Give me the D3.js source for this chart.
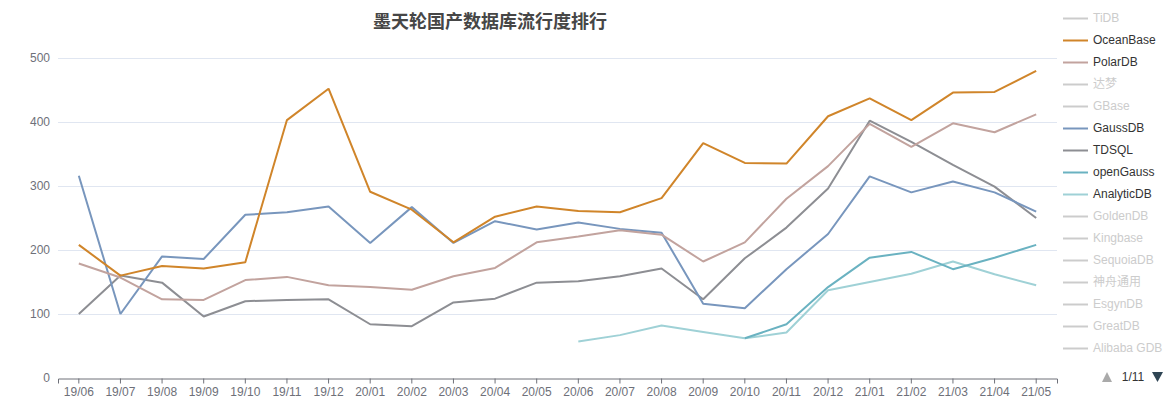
<!DOCTYPE html>
<html>
<head>
<meta charset="utf-8">
<script src="https://cdn.jsdelivr.net/npm/d3@7/dist/d3.min.js"></script>
<style>
  html, body { margin: 0; padding: 0; background: #fff; }
  svg { display: block; font-family: "Liberation Sans", "Noto Sans CJK SC", sans-serif; }
</style>
</head>
<body>
<svg id="chart" width="1173" height="412"></svg>
<script>
const categories = ["19/06","19/07","19/08","19/09","19/10","19/11","19/12","20/01","20/02","20/03","20/04","20/05","20/06","20/07","20/08","20/09","20/10","20/11","20/12","21/01","21/02","21/03","21/04","21/05"];
const yTicks = [0, 100, 200, 300, 400, 500];

const oceanBase = [208,160,175,171,181,403,452,291,263,212,252,268,261,259,281,367,336,335,409,437,403,446,447,480];
const polarDB   = [179,157,123,122,153,158,145,142,138,159,172,212,221,231,224,182,212,280,331,397,361,398,384,412];
const gaussDB   = [316,100,190,186,255,259,268,211,267,211,245,232,243,233,227,116,109,170,225,315,290,307,290,260];
const tdsql     = [100,160,149,96,120,122,123,84,81,118,124,149,151,159,171,123,187,235,296,402,369,333,299,250];
const openGauss = [null,null,null,null,null,null,null,null,null,null,null,null,null,null,null,null,62,84,142,188,197,170,188,208];
const analyticDB= [null,null,null,null,null,null,null,null,null,null,null,null,57,67,82,72,62,71,137,150,163,182,162,145];

const legendNames = ["TiDB","OceanBase","PolarDB","达梦","GBase","GaussDB","TDSQL","openGauss","AnalyticDB","GoldenDB","Kingbase","SequoiaDB","神舟通用","EsgynDB","GreatDB","Alibaba GDB"];
const activeSeries = [
  {name:"OceanBase", values: oceanBase, color:"#d0852a"},
  {name:"PolarDB", values: polarDB, color:"#c2a39e"},
  {name:"GaussDB", values: gaussDB, color:"#7896bd"},
  {name:"TDSQL", values: tdsql, color:"#8d8e93"},
  {name:"openGauss", values: openGauss, color:"#6ab2c1"},
  {name:"AnalyticDB", values: analyticDB, color:"#9fd1d6"}
];
const title = "墨天轮国产数据库流行度排行";
const pagerText = "1/11";

const svg = d3.select("#chart");
const margin = {left: 58, right: 1057, top: 58, bottom: 378};
const latin = "'Liberation Sans', 'Noto Sans CJK SC', sans-serif";

const x = d3.scaleBand().domain(categories).range([margin.left, margin.right]);
const y = d3.scaleLinear().domain([0, 500]).range([margin.bottom, margin.top]);

// grid
svg.append("g").selectAll("line").data(yTicks.filter(d => d > 0)).join("line")
  .attr("x1", margin.left).attr("x2", margin.right)
  .attr("y1", d => y(d) + 0.5).attr("y2", d => y(d) + 0.5)
  .attr("stroke", "#e0e6f1").attr("stroke-width", 1);

// y axis labels
const yAxis = d3.axisLeft(y).tickValues(yTicks).tickSize(0).tickPadding(8);
const yg = svg.append("g").attr("transform", `translate(${margin.left},0)`).call(yAxis);
yg.select(".domain").remove();
yg.selectAll("text").attr("fill", "#6e7079").style("font-size", "12px").attr("font-family", latin);

// x axis
const xAxis = d3.axisBottom(x).tickSizeOuter(0).tickSize(5).tickPadding(4);
const xg = svg.append("g").attr("transform", `translate(0,${margin.bottom + 0.5})`).call(xAxis);
xg.select(".domain").attr("stroke", "#6e7079");
xg.selectAll(".tick line").attr("stroke", "#6e7079");
xg.selectAll("text").attr("fill", "#6e7079").style("font-size", "12px").attr("font-family", latin);

// lines
const cx = d => x(d) + x.bandwidth() / 2;
const line = d3.line()
  .defined(d => d.v !== null)
  .x(d => cx(d.c))
  .y(d => y(d.v));

svg.append("g").selectAll("path").data(activeSeries.slice().reverse()).join("path")
  .attr("d", s => line(s.values.map((v, i) => ({c: categories[i], v}))))
  .attr("fill", "none")
  .attr("stroke", s => s.color)
  .attr("stroke-width", 2)
  .attr("stroke-linejoin", "bevel");

// title
svg.append("text")
  .attr("x", 490).attr("y", 28)
  .attr("text-anchor", "middle")
  .attr("fill", "#464646")
  .style("font-size", "18px")
  .style("font-weight", "bold")
  .attr("font-family", "'Noto Sans CJK SC', sans-serif")
  .text(title);

// legend
const colorMap = new Map(activeSeries.map(s => [s.name, s.color]));
const lg = svg.append("g");
legendNames.forEach((n, i) => {
  const yy = 18 + i * 22;
  const active = colorMap.has(n);
  lg.append("line")
    .attr("x1", 1063).attr("x2", 1088)
    .attr("y1", yy + 0.5).attr("y2", yy + 0.5)
    .attr("stroke", active ? colorMap.get(n) : "#ccc")
    .attr("stroke-width", 2);
  lg.append("text")
    .attr("x", 1093).attr("y", yy)
    .attr("dy", "0.35em")
    .attr("fill", active ? "#333" : "#ccc")
    .style("font-size", "12px")
    .attr("font-family", latin)
    .text(n);
});

// pager
const py = 377;
lg.append("path")
  .attr("d", `M${1102},${py + 5} L${1112},${py + 5} L${1107},${py - 5} Z`)
  .attr("fill", "#aaa");
lg.append("text")
  .attr("x", 1133).attr("y", py).attr("dy", "0.35em")
  .attr("text-anchor", "middle")
  .attr("fill", "#333").style("font-size", "12px")
  .attr("font-family", latin)
  .text(pagerText);
lg.append("path")
  .attr("d", `M${1152},${py - 5} L${1163},${py - 5} L${1157.5},${py + 5} Z`)
  .attr("fill", "#2f4554");
</script>
</body>
</html>
